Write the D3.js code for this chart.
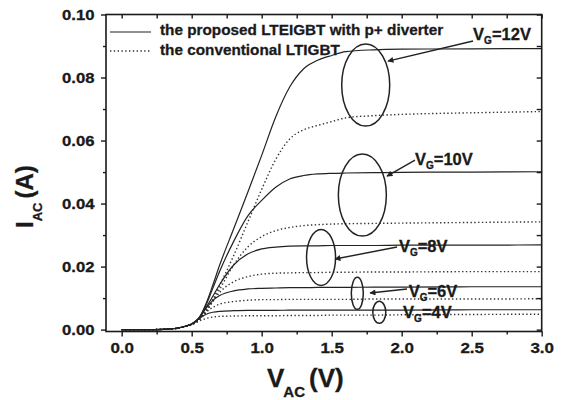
<!DOCTYPE html>
<html><head><meta charset="utf-8">
<script src="https://cdn.jsdelivr.net/npm/d3@7"></script>
<style>
body{margin:0;background:#fff}
text{font-family:"Liberation Sans",Arial,sans-serif;font-weight:bold;fill:#1a1a1a;stroke:#1a1a1a;stroke-width:0.3px}
</style>
</head><body><svg id="c" width="563" height="400"></svg>
<script>
// ---- data ----
const vac = [0, 0.2, 0.3, 0.4, 0.45, 0.5, 0.55, 0.6, 0.65, 0.7, 0.8, 0.9, 1.0, 1.1, 1.2, 1.3, 1.4, 1.5, 1.6, 1.8, 2.0, 2.5, 3.0];
// proposed LTEIGBT with p+ diverter (solid)
const solid12 = [0, 0, 0.0001, 0.0005, 0.001, 0.0018, 0.0036, 0.0080, 0.0140, 0.0205, 0.0320, 0.0435, 0.0553, 0.0675, 0.0770, 0.0828, 0.0855, 0.0870, 0.0882, 0.0888, 0.0890, 0.0891, 0.0892];
const solid10 = [0, 0, 0.0001, 0.0005, 0.001, 0.0018, 0.0035, 0.0075, 0.0130, 0.0185, 0.0280, 0.0360, 0.0410, 0.0452, 0.0478, 0.0489, 0.0494, 0.0496, 0.0497, 0.0498, 0.0499, 0.0500, 0.0501];
const solid8  = [0, 0, 0.0001, 0.0005, 0.001, 0.0018, 0.0034, 0.0068, 0.0105, 0.0143, 0.0205, 0.0240, 0.0256, 0.0262, 0.0265, 0.0266, 0.0266, 0.0267, 0.0267, 0.0267, 0.0268, 0.0268, 0.0269];
const solid6  = [0, 0, 0.0001, 0.0005, 0.001, 0.0018, 0.0036, 0.0066, 0.0092, 0.0108, 0.0123, 0.0129, 0.0131, 0.0132, 0.0133, 0.0133, 0.0134, 0.0134, 0.0134, 0.0135, 0.0135, 0.0136, 0.0136];
const solid4  = [0, 0, 0.0001, 0.0005, 0.001, 0.0018, 0.0034, 0.0048, 0.0055, 0.0058, 0.0060, 0.0061, 0.0061, 0.0061, 0.0062, 0.0062, 0.0062, 0.0062, 0.0062, 0.0062, 0.0062, 0.0063, 0.0063];
// conventional LTIGBT (dotted)
const dotted12 = [0, 0, 0.0001, 0.0004, 0.0009, 0.0016, 0.0030, 0.0058, 0.0095, 0.0140, 0.0235, 0.0340, 0.0445, 0.0540, 0.0605, 0.0634, 0.0648, 0.0660, 0.0672, 0.0679, 0.0683, 0.0688, 0.0692];
const dotted10 = [0, 0, 0.0001, 0.0004, 0.0009, 0.0016, 0.0030, 0.0055, 0.0090, 0.0128, 0.0205, 0.0262, 0.0295, 0.0314, 0.0324, 0.0330, 0.0333, 0.0335, 0.0336, 0.0337, 0.0338, 0.0340, 0.0342];
const dotted8  = [0, 0, 0.0001, 0.0004, 0.0009, 0.0016, 0.0030, 0.0055, 0.0088, 0.0118, 0.0152, 0.0168, 0.0176, 0.0179, 0.0180, 0.0181, 0.0181, 0.0182, 0.0182, 0.0183, 0.0183, 0.0184, 0.0184];
const dotted6  = [0, 0, 0.0001, 0.0004, 0.0009, 0.0016, 0.0031, 0.0054, 0.0070, 0.0081, 0.0089, 0.0093, 0.0095, 0.0095, 0.0096, 0.0096, 0.0096, 0.0096, 0.0096, 0.0097, 0.0097, 0.0097, 0.0098];
const dotted4  = [0, 0, 0.0001, 0.0004, 0.0009, 0.0015, 0.0027, 0.0035, 0.0040, 0.0042, 0.0043, 0.0044, 0.0044, 0.0044, 0.0045, 0.0045, 0.0045, 0.0046, 0.0046, 0.0046, 0.0047, 0.0048, 0.0049];

const xTicks = [0, 0.5, 1.0, 1.5, 2.0, 2.5, 3.0];
const xTickLabels = ["0.0", "0.5", "1.0", "1.5", "2.0", "2.5", "3.0"];
const xMinorTicks = [0.25, 0.75, 1.25, 1.75, 2.25, 2.75];
const yTicks = [0, 0.02, 0.04, 0.06, 0.08, 0.10];
const yTickLabels = ["0.00", "0.02", "0.04", "0.06", "0.08", "0.10"];
const yMinorTicks = [0.01, 0.03, 0.05, 0.07, 0.09];
const gateLabels = ["=12V", "=10V", "=8V", "=6V", "=4V"];
const legendLabels = ["the proposed LTEIGBT with p+ diverter", "the conventional LTIGBT"];

// ---- layout ----
const svg = d3.select("#c");
svg.append("rect").attr("width", 563).attr("height", 400).attr("fill", "#fff");
const L = 106, R = 541.7, T = 14.5, B = 331.5;
const x = d3.scaleLinear().domain([-0.112, 3.0]).range([L, R]);
const y = d3.scaleLinear().domain([-0.0006, 0.1]).range([B, T]);
const ink = "#1a1a1a";

// curves
const line = d3.line().x(d => x(d[0])).y(d => y(d[1])).curve(d3.curveMonotoneX);
const solids = [solid12, solid10, solid8, solid6, solid4];
const dotteds = [dotted12, dotted10, dotted8, dotted6, dotted4];
const gCurves = svg.append("g");
dotteds.forEach(s => {
  gCurves.append("path").attr("d", line(vac.map((v, i) => [v, s[i]])))
    .attr("fill", "none").attr("stroke", "#333").attr("stroke-width", 1.4)
    .attr("stroke-dasharray", "1.4,2.4");
});
solids.forEach(s => {
  gCurves.append("path").attr("d", line(vac.map((v, i) => [v, s[i]])))
    .attr("fill", "none").attr("stroke", "#222").attr("stroke-width", 1.2);
});

// axes
function styleAxis(g) {
  g.select(".domain").remove();
  g.selectAll("line").attr("stroke", ink).attr("stroke-width", 1.4);
}
svg.append("g").attr("transform", `translate(0,${B})`)
  .call(d3.axisBottom(x).tickValues(xTicks).tickFormat((d, i) => xTickLabels[i]).tickSize(5).tickPadding(6))
  .call(styleAxis)
  .call(g => g.selectAll("text").attr("font-size", 14.5).attr("fill", ink)
    .attr("transform", "scale(1.17,1)").attr("dy", "0.71em"));
svg.append("g").attr("transform", `translate(0,${B})`)
  .call(d3.axisBottom(x).tickValues(xMinorTicks).tickFormat("").tickSize(3)).call(styleAxis);
svg.append("g").attr("transform", `translate(${L},0)`)
  .call(d3.axisLeft(y).tickValues(yTicks).tickFormat((d, i) => yTickLabels[i]).tickSize(5).tickPadding(5))
  .call(styleAxis)
  .call(g => g.selectAll("text").attr("font-size", 14.5).attr("fill", ink)
    .attr("transform", "scale(1.15,1)"));
svg.append("g").attr("transform", `translate(${L},0)`)
  .call(d3.axisLeft(y).tickValues(yMinorTicks).tickFormat("").tickSize(3)).call(styleAxis);
// mirrored (inward) ticks on top and right
svg.append("g").attr("transform", `translate(0,${T})`)
  .call(d3.axisBottom(x).tickValues(xTicks.concat(xMinorTicks)).tickFormat("").tickSize(4)).call(styleAxis);
svg.append("g").attr("transform", `translate(${R},0)`)
  .call(d3.axisLeft(y).tickValues(yTicks.concat(yMinorTicks)).tickFormat("").tickSize(5)).call(styleAxis);
// frame
svg.append("rect").attr("x", L).attr("y", T).attr("width", R - L).attr("height", B - T)
  .attr("fill", "none").attr("stroke", ink).attr("stroke-width", 1.6);

// axis titles
const xt = svg.append("text").attr("x", 267).attr("y", 387).attr("font-size", 26).attr("fill", ink);
xt.append("tspan").text("V");
xt.append("tspan").attr("font-size", 15).attr("dx", -1).attr("dy", 10).text("AC");
xt.append("tspan").attr("dy", -10).attr("dx", 4).text("(V)");
const yt = svg.append("text").attr("transform", "translate(33,228) rotate(-90)").attr("font-size", 24).attr("fill", ink);
yt.append("tspan").text("I");
yt.append("tspan").attr("font-size", 13).attr("dy", 9).text("AC");
yt.append("tspan").attr("dy", -9).attr("dx", 4).text("(A)");

// legend
const legY = [32, 51];
svg.append("line").attr("x1", 110).attr("x2", 151).attr("y1", legY[0]).attr("y2", legY[0]).attr("stroke", "#222").attr("stroke-width", 1.2);
svg.append("line").attr("x1", 110).attr("x2", 151).attr("y1", legY[1]).attr("y2", legY[1]).attr("stroke", "#333").attr("stroke-width", 1.4).attr("stroke-dasharray", "1.4,2.4");
legendLabels.forEach((t, i) => {
  svg.append("text").attr("x", 160).attr("y", legY[i] + 3 + i * 1).attr("font-size", 15.3).attr("fill", ink).text(t);
});

// annotations: ellipses, arrows, gate-voltage labels (positions in data coords)
const ellipses = [[1.743, 0.0776, 24, 41], [1.719, 0.0427, 24, 41], [1.424, 0.0229, 14.5, 28], [1.683, 0.0115, 6, 16], [1.84, 0.0055, 6.5, 11]];
ellipses.forEach(e => svg.append("ellipse").attr("cx", x(e[0])).attr("cy", y(e[1])).attr("rx", e[2]).attr("ry", e[3])
  .attr("fill", "none").attr("stroke", "#222").attr("stroke-width", 1.5));
svg.append("defs").append("marker").attr("id", "ah").attr("viewBox", "0 0 10 10").attr("refX", 9).attr("refY", 5)
  .attr("markerWidth", 8).attr("markerHeight", 6).attr("orient", "auto").attr("markerUnits", "userSpaceOnUse")
  .append("path").attr("d", "M0,0L10,5L0,10z").attr("fill", "#222");
const arrows = [[2.51, 0.0916, 1.902, 0.0852], [2.095, 0.0538, 1.895, 0.0487], [1.967, 0.0262, 1.524, 0.0224], [2.038, 0.0129, 1.774, 0.0116]];
arrows.forEach(a => svg.append("line").attr("x1", x(a[0])).attr("y1", y(a[1])).attr("x2", x(a[2])).attr("y2", y(a[3]))
  .attr("stroke", "#222").attr("stroke-width", 1.4).attr("marker-end", "url(#ah)"));
const labelPos = [[2.51, 0.0919], [2.095, 0.0522], [1.98, 0.0246], [2.05, 0.0103], [2.01, 0.0037]];
labelPos.forEach((p, i) => {
  const t = svg.append("text").attr("x", x(p[0])).attr("y", y(p[1])).attr("font-size", 16.5).attr("fill", ink);
  t.append("tspan").text("V");
  t.append("tspan").attr("font-size", 10).attr("dy", 4).text("G");
  t.append("tspan").attr("dy", -4).text(gateLabels[i]);
});
</script></body></html>
